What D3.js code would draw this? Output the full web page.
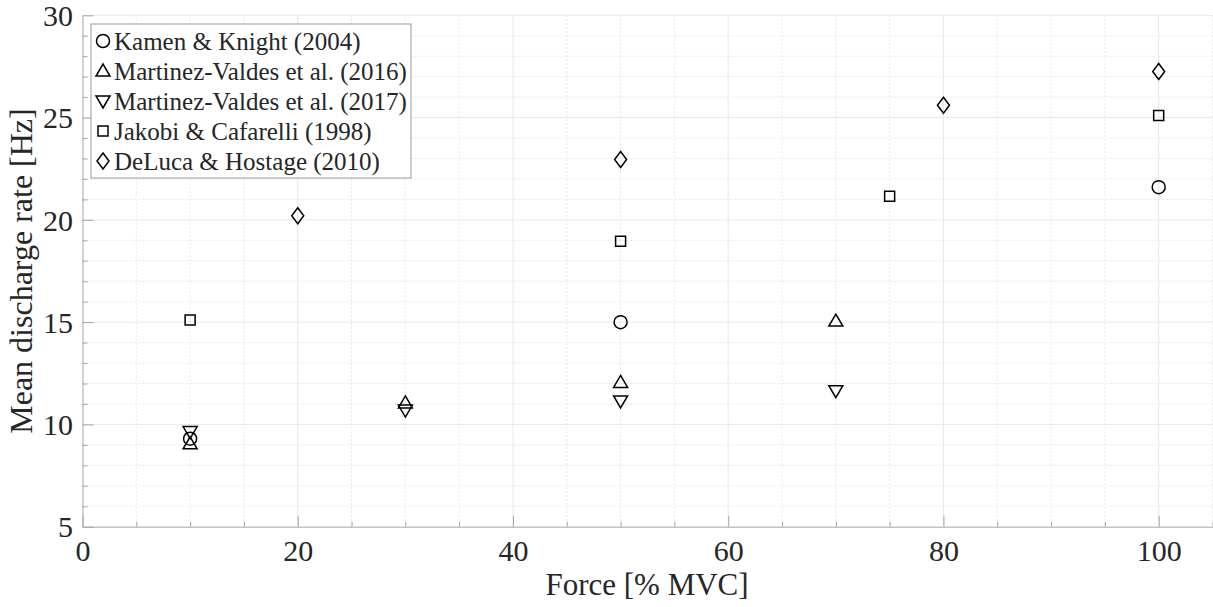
<!DOCTYPE html>
<html>
<head>
<meta charset="utf-8">
<script src="https://cdn.jsdelivr.net/npm/d3@7"></script>
<style>
  html, body { margin: 0; padding: 0; background: #fff; }
  svg { display: block; }
  text { font-family: "Liberation Serif", "DejaVu Serif", serif; }
</style>
</head>
<body>
<svg id="chart" width="1213" height="607"></svg>
<script>
// ---- data ----
const seriesNames = [
  "Kamen & Knight (2004)",
  "Martinez-Valdes et al. (2016)",
  "Martinez-Valdes et al. (2017)",
  "Jakobi & Cafarelli (1998)",
  "DeLuca & Hostage (2010)"
];
const seriesMarkers = ["circle", "triangleUp", "triangleDown", "square", "diamond"];

const kamenX = [10, 50, 100];
const kamenY = [9.3, 15.0, 21.6];
const mv2016X = [10, 30, 50, 70];
const mv2016Y = [9.05, 11.05, 12.05, 15.05];
const mv2017X = [10, 30, 50, 70];
const mv2017Y = [9.65, 10.7, 11.15, 11.65];
const jakobiX = [10, 50, 75, 100];
const jakobiY = [15.1, 18.95, 21.15, 25.1];
const delucaX = [20, 50, 80, 100];
const delucaY = [20.2, 22.95, 25.6, 27.25];

const xTicks = [0, 20, 40, 60, 80, 100];
const yTicks = [5, 10, 15, 20, 25, 30];
const xDomain = [0, 105];
const yDomain = [5, 30];
const xLabel = "Force [% MVC]";
const yLabel = "Mean discharge rate [Hz]";

const seriesX = [kamenX, mv2016X, mv2017X, jakobiX, delucaX];
const seriesY = [kamenY, mv2016Y, mv2017Y, jakobiY, delucaY];

// ---- layout ----
const svg = d3.select("#chart");
const L = 82.5, R = 1212.5, T = 15.3, B = 526.7;
const x = d3.scaleLinear().domain(xDomain).range([L, R]);
const y = d3.scaleLinear().domain(yDomain).range([B, T]);

const axisColor = "#a6a6a6";
const textColor = "#262626";

// minor grid
const xMinor = d3.range(xDomain[0], xDomain[1] + 0.001, 5).filter(v => !xTicks.includes(v));
const yMinor = d3.range(yDomain[0], yDomain[1] + 0.001, 1).filter(v => !yTicks.includes(v));
const grid = svg.append("g");
grid.selectAll(".xm").data(xMinor).enter().append("line")
  .attr("x1", d => x(d)).attr("x2", d => x(d)).attr("y1", T).attr("y2", B)
  .attr("stroke", "#e6e6e6").attr("stroke-width", 1).attr("stroke-dasharray", "2,2");
grid.selectAll(".ym").data(yMinor).enter().append("line")
  .attr("x1", L).attr("x2", R).attr("y1", d => y(d)).attr("y2", d => y(d))
  .attr("stroke", "#e6e6e6").attr("stroke-width", 1).attr("stroke-dasharray", "2,2");
// major grid
grid.selectAll(".xM").data(xTicks.filter(v => v > xDomain[0])).enter().append("line")
  .attr("x1", d => x(d)).attr("x2", d => x(d)).attr("y1", T).attr("y2", B)
  .attr("stroke", "#e8e8e8").attr("stroke-width", 1);
grid.selectAll(".yM").data(yTicks.filter(v => v > yDomain[0])).enter().append("line")
  .attr("x1", L).attr("x2", R).attr("y1", d => y(d)).attr("y2", d => y(d))
  .attr("stroke", "#e8e8e8").attr("stroke-width", 1);

// axes (ticks inward)
const xAxis = svg.append("g").attr("transform", `translate(0,${B})`)
  .call(d3.axisBottom(x).tickValues(xTicks).tickSize(-11).tickPadding(13).tickSizeOuter(0).tickFormat(d3.format("d")));
const yAxis = svg.append("g").attr("transform", `translate(${L},0)`)
  .call(d3.axisLeft(y).tickValues(yTicks).tickSize(-11).tickPadding(9.5).tickSizeOuter(0).tickFormat(d3.format("d")));
// minor ticks
svg.append("g").attr("transform", `translate(0,${B})`)
  .call(d3.axisBottom(x).tickValues(xMinor).tickSize(-5).tickFormat("").tickSizeOuter(0))
  .call(g => g.select(".domain").remove())
  .selectAll("line").attr("stroke", axisColor);
svg.append("g").attr("transform", `translate(${L},0)`)
  .call(d3.axisLeft(y).tickValues(yMinor).tickSize(-5).tickFormat("").tickSizeOuter(0))
  .call(g => g.select(".domain").remove())
  .selectAll("line").attr("stroke", axisColor);

[xAxis, yAxis].forEach(a => {
  a.select(".domain").attr("stroke", axisColor);
  a.selectAll(".tick line").attr("stroke", axisColor);
  a.selectAll("text").attr("fill", textColor).style("font-size", "30px")
    .style("font-family", "'Liberation Serif', serif");
});
xAxis.selectAll("text").attr("dy", "0.71em");
yAxis.selectAll("text").attr("dy", "0.34em");

// axis labels
svg.append("text").attr("x", 647).attr("y", 595)
  .attr("text-anchor", "middle").attr("fill", textColor)
  .style("font-size", "31px").text(xLabel);
svg.append("text").attr("transform", `translate(32,${(T + B) / 2}) rotate(-90)`)
  .attr("text-anchor", "middle").attr("fill", textColor)
  .style("font-size", "32px").text(yLabel);

// marker paths
function markerPath(type, cx, cy) {
  switch (type) {
    case "circle": {
      const r = 6.5;
      return `M${cx + r},${cy} A${r},${r} 0 1,1 ${cx - r},${cy} A${r},${r} 0 1,1 ${cx + r},${cy} Z`;
    }
    case "triangleUp":
      return `M${cx},${cy - 7} L${cx + 7},${cy + 5} L${cx - 7},${cy + 5} Z`;
    case "triangleDown":
      return `M${cx},${cy + 7} L${cx + 7},${cy - 5} L${cx - 7},${cy - 5} Z`;
    case "square":
      return `M${cx - 5},${cy - 5} L${cx + 5},${cy - 5} L${cx + 5},${cy + 5} L${cx - 5},${cy + 5} Z`;
    case "diamond":
      return `M${cx},${cy - 8} L${cx + 6},${cy} L${cx},${cy + 8} L${cx - 6},${cy} Z`;
  }
}

const marks = svg.append("g");
seriesNames.forEach((name, i) => {
  const pts = seriesX[i].map((v, j) => [v, seriesY[i][j]]);
  marks.selectAll(null).data(pts).enter().append("path")
    .attr("d", d => markerPath(seriesMarkers[i], x(d[0]), y(d[1])))
    .attr("fill", "none").attr("stroke", "#000").attr("stroke-width", 1.5)
    .attr("stroke-linejoin", "miter");
});

// legend
const lg = svg.append("g");
const lgX = 91, lgY = 24, lgW = 320, lgH = 154;
lg.append("rect").attr("x", lgX).attr("y", lgY).attr("width", lgW).attr("height", lgH)
  .attr("fill", "#fff").attr("stroke", "#9a9a9a").attr("stroke-width", 1);
seriesNames.forEach((name, i) => {
  const cy = lgY + 17 + i * 30;
  lg.append("path").attr("d", markerPath(seriesMarkers[i], 103, cy))
    .attr("fill", "none").attr("stroke", "#000").attr("stroke-width", 1.5);
  lg.append("text").attr("x", 114).attr("y", cy).attr("dy", "0.35em")
    .attr("fill", textColor).style("font-size", "25px").text(name);
});
</script>
</body>
</html>
